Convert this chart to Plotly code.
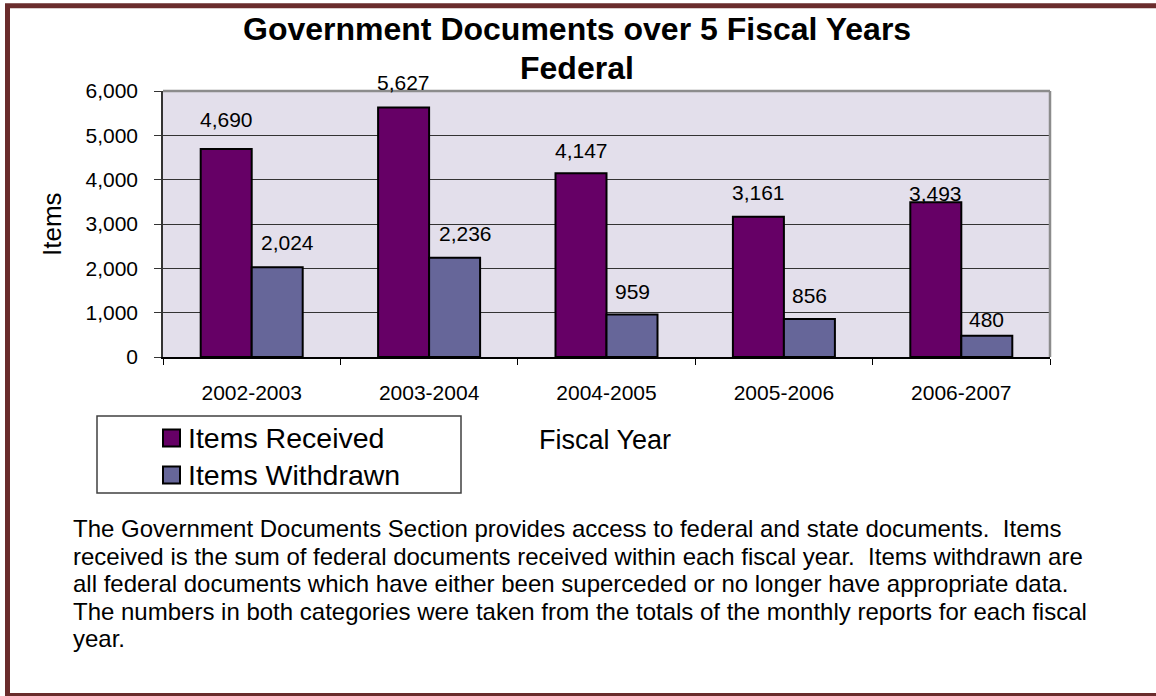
import plotly.graph_objects as go

# Fiscal years and item counts
fiscal_years = ["2002-2003", "2003-2004", "2004-2005", "2005-2006", "2006-2007"]
items_received = [4690, 5627, 4147, 3161, 3493]
items_withdrawn = [2024, 2236, 959, 856, 480]
series_names = ["Items Received", "Items Withdrawn"]
y_ticks = [0, 1000, 2000, 3000, 4000, 5000, 6000]

title_lines = ["Government Documents over 5 Fiscal Years", "Federal"]
description_lines = [
    "The Government Documents Section provides access to federal and state documents.\u00a0 Items",
    "received is the sum of federal documents received within each fiscal year.\u00a0 Items withdrawn are",
    "all federal documents which have either been superceded or no longer have appropriate data.",
    "The numbers in both categories were taken from the totals of the monthly reports for each fiscal",
    "year.",
]

W, H = 1156, 696
FONT = "Liberation Sans, Arial, sans-serif"
RECEIVED_COLOR = "#660066"
WITHDRAWN_COLOR = "#666699"

# plot area in pixels
PX0, PX1 = 163, 1050
PY0, PY1 = 91, 357


def px(x):
    return x / W


def py(y):
    return 1 - y / H


fig = go.Figure()
fig.add_trace(go.Bar(
    x=fiscal_years, y=items_received, name=series_names[0],
    marker=dict(color=RECEIVED_COLOR, line=dict(color="black", width=2)),
    showlegend=False, hoverinfo="x+y+name",
))
fig.add_trace(go.Bar(
    x=fiscal_years, y=items_withdrawn, name=series_names[1],
    marker=dict(color=WITHDRAWN_COLOR, line=dict(color="black", width=2)),
    showlegend=False, hoverinfo="x+y+name",
))

annotations = []

# value labels above each bar (pixel offsets for placement)
bar_half = 25.5
recv_shift_y = [30, 25.5, 23, 24, 9]
wdr_shift_y = [25, 24, 22.5, 24, 16]
wdr_shift_x = [10, 11, 0, 0, 0]
for i, cat in enumerate(fiscal_years):
    annotations.append(dict(
        x=cat, y=items_received[i], xref="x", yref="y",
        text=f"{items_received[i]:,}", showarrow=False,
        xshift=-bar_half, yshift=recv_shift_y[i],
        xanchor="center", yanchor="middle",
        font=dict(family=FONT, size=21, color="black"),
    ))
    annotations.append(dict(
        x=cat, y=items_withdrawn[i], xref="x", yref="y",
        text=f"{items_withdrawn[i]:,}", showarrow=False,
        xshift=bar_half + wdr_shift_x[i], yshift=wdr_shift_y[i],
        xanchor="center", yanchor="middle",
        font=dict(family=FONT, size=21, color="black"),
    ))

# chart title, one annotation per line
for line, cy in zip(title_lines, [29, 68]):
    annotations.append(dict(
        x=px(577), y=py(cy), xref="paper", yref="paper",
        text=f"<b>{line}</b>", showarrow=False,
        xanchor="center", yanchor="middle",
        font=dict(family=FONT, size=32, color="black"),
    ))

# axis titles
annotations.append(dict(
    x=px(52), y=py(224), xref="paper", yref="paper", text="Items",
    showarrow=False, textangle=-90, xanchor="center", yanchor="middle",
    font=dict(family=FONT, size=26, color="black"),
))
annotations.append(dict(
    x=px(605), y=py(440), xref="paper", yref="paper", text="Fiscal Year",
    showarrow=False, xanchor="center", yanchor="middle",
    font=dict(family=FONT, size=27, color="black"),
))

# legend entries
legend_rows = [438, 475]
legend_colors = [RECEIVED_COLOR, WITHDRAWN_COLOR]
shapes = []
for name, color, ry in zip(series_names, legend_colors, legend_rows):
    shapes.append(dict(
        type="rect", xref="paper", yref="paper",
        x0=px(163), x1=px(180), y0=py(ry + 8.5), y1=py(ry - 8.5),
        fillcolor=color, line=dict(color="black", width=2),
    ))
    annotations.append(dict(
        x=px(186), y=py(ry), xref="paper", yref="paper", text=name,
        showarrow=False, xanchor="left", yanchor="middle",
        font=dict(family=FONT, size=28.5, color="black"),
    ))

# legend box
shapes.append(dict(
    type="rect", xref="paper", yref="paper",
    x0=px(97), x1=px(461), y0=py(493), y1=py(416),
    line=dict(color="#404040", width=1.5), fillcolor="rgba(0,0,0,0)",
))

# description paragraph, one annotation per line
for k, line in enumerate(description_lines):
    annotations.append(dict(
        x=px(71), y=py(528.5 + 27.6 * k), xref="paper", yref="paper",
        text=line, showarrow=False, xanchor="left", yanchor="middle",
        align="left", font=dict(family=FONT, size=24, color="black"),
    ))

# plot area top and right edges
shapes.append(dict(type="line", xref="paper", yref="paper",
                   x0=px(PX0), x1=px(PX1), y0=py(PY0), y1=py(PY0),
                   line=dict(color="#8C8C8C", width=2.5)))
shapes.append(dict(type="line", xref="paper", yref="paper",
                   x0=px(PX1), x1=px(PX1), y0=py(PY0), y1=py(PY1),
                   line=dict(color="#8C8C8C", width=2.5)))

# outer frame
shapes.append(dict(
    type="rect", xref="paper", yref="paper",
    x0=px(7.5), x1=1.05, y0=py(695.5), y1=py(5.8),
    line=dict(color="#6A2C2C", width=5), fillcolor="rgba(0,0,0,0)",
))

fig.update_layout(
    width=W, height=H,
    margin=dict(l=0, r=0, t=0, b=0, autoexpand=False),
    paper_bgcolor="white",
    plot_bgcolor="#E3DFEB",
    barmode="group", bargap=0.425, bargroupgap=0,
    font=dict(family=FONT, color="black"),
    xaxis=dict(
        domain=[px(PX0), px(PX1)], automargin=False,
        type="category", categoryorder="array", categoryarray=fiscal_years,
        showgrid=False, showline=True, linecolor="black", linewidth=1.5,
        ticks="outside", tickson="boundaries", ticklen=6, tickcolor="black",
        tickfont=dict(family=FONT, size=21, color="black"),
        ticklabelstandoff=16,
        zeroline=False,
    ),
    yaxis=dict(
        domain=[py(PY1), py(PY0)], automargin=False,
        range=[0, 6000], tickvals=y_ticks, tickformat=",",
        showgrid=True, gridcolor="#333333", gridwidth=1,
        showline=True, linecolor="#333333", linewidth=1.5,
        ticks="outside", ticklen=7, tickcolor="#333333",
        tickfont=dict(family=FONT, size=21, color="black"),
        ticklabelstandoff=12,
        zeroline=False,
    ),
    annotations=annotations,
    shapes=shapes,
)

fig.write_html("out.html")
